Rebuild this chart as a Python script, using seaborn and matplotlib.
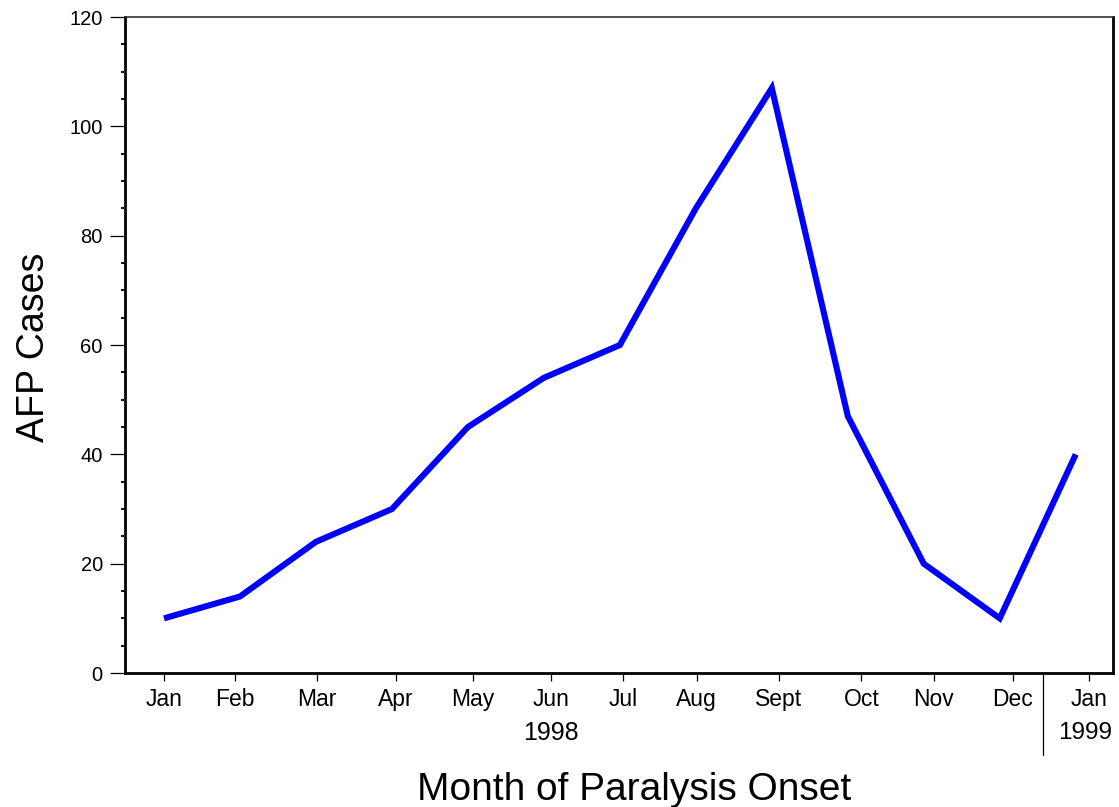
import numpy as np
import pandas as pd
import matplotlib
matplotlib.use("Agg")
import matplotlib.pyplot as plt
import matplotlib.transforms as mtransforms
from matplotlib.ticker import MultipleLocator
import seaborn as sns

# data
months = ["Jan", "Feb", "Mar", "Apr", "May", "Jun", "Jul", "Aug", "Sept",
          "Oct", "Nov", "Dec", "Jan"]
cases = [10, 14, 24, 30, 45, 54, 60, 85, 107, 47, 20, 10, 40]
# tick positions (in month index units) as they sit in the original
tick_pos = [0, 0.93, 2.01, 3.05, 4.07, 5.09, 6.04, 7.01, 8.09, 9.18, 10.13, 11.17, 12.17]
years = ["1998", "1999"]

df = pd.DataFrame({"idx": np.arange(len(cases)), "cases": cases})

sns.set_style("ticks")
plt.rcParams['font.family'] = ['Liberation Sans', 'DejaVu Sans']
plt.rcParams['text.color'] = 'black'
plt.rcParams['axes.labelcolor'] = 'black'

fig = plt.figure(figsize=(11.19, 8.07), dpi=100)
ax = fig.add_axes([0.1117, 0.166, 0.9946 - 0.1117, 0.9789 - 0.166])

sns.lineplot(data=df, x="idx", y="cases", ax=ax, color="#0000ff", linewidth=4.4)
for ln in ax.lines:
    ln.set_solid_capstyle("butt")
    ln.set_solid_joinstyle("miter")

ax.set_xlim(-0.513, 12.49)
ax.set_ylim(0, 120)

ax.yaxis.set_major_locator(MultipleLocator(20))
ax.yaxis.set_minor_locator(MultipleLocator(5))
ax.tick_params(axis="y", which="major", direction="out", length=11, width=0.9,
               labelsize=14.5, pad=5, colors="black")
ax.tick_params(axis="y", which="minor", direction="out", length=3, width=1.3, colors="black")

ax.set_xticks(tick_pos)
ax.set_xticklabels(months)
ax.tick_params(axis="x", which="major", direction="out", length=6, width=0.9,
               labelsize=16.5, pad=5, colors="black")

for side in ["left", "bottom", "right"]:
    ax.spines[side].set_linewidth(2.0)
    ax.spines[side].set_color("black")
ax.spines["top"].set_linewidth(1.2)
ax.spines["top"].set_color("#333333")

ax.set_xlabel("")
ax.set_ylabel("")

# year separator and year labels
trans = mtransforms.blended_transform_factory(ax.transData, ax.transAxes)
ax.plot([11.57, 11.57], [0, -0.125], transform=trans, color="black",
        linewidth=0.9, clip_on=False)
ax.text(5.09, -0.091, years[0], transform=trans, ha="center", va="center", fontsize=18)
ax.text(12.13, -0.091, years[1], transform=trans, ha="center", va="center", fontsize=17.5)

fig.text(634 / 1119, 1 - 790 / 807, "Month of Paralysis Onset", ha="center",
         va="center", fontsize=28)
fig.text(34 / 1119, 1 - 347 / 807, "AFP Cases", ha="center", va="center",
         rotation=90, fontsize=27)

fig.savefig("out.png", dpi=100)
